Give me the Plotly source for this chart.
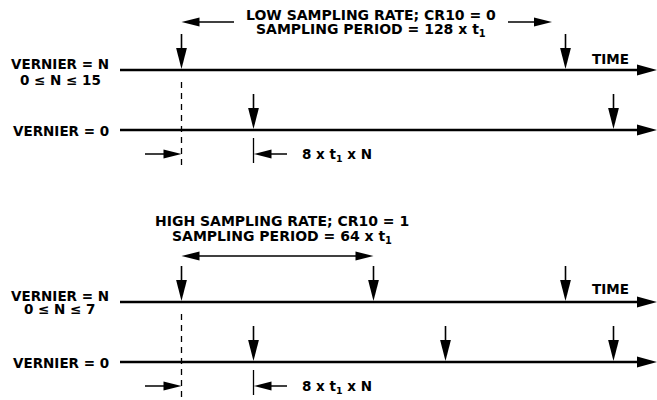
import plotly.graph_objects as go

# ---------------- data (time in units of t1) ----------------
panel_titles_line1 = ["LOW SAMPLING RATE; CR10 = 0", "HIGH SAMPLING RATE; CR10 = 1"]
panel_titles_line2 = ["SAMPLING PERIOD = 128 x t<sub>1</sub>", "SAMPLING PERIOD = 64 x t<sub>1</sub>"]
vernier_n_labels = ["VERNIER = N", "VERNIER = N"]
vernier_n_ranges = ["0 \u2264 N \u2264 15", "0 \u2264 N \u2264 7"]
vernier_0_labels = ["VERNIER = 0", "VERNIER = 0"]
offset_label = "8 x t<sub>1</sub> x N"
time_label = "TIME"

low_vernier_n_events = [0, 128]
low_vernier_0_events = [24, 144]
high_vernier_n_events = [0, 64, 128]
high_vernier_0_events = [24, 88, 144]
sampling_periods = [128, 64]
vernier_offset = 24

# ---------------- layout helpers ----------------
W, H = 657, 400
T0_PX = 181.5      # pixel of t = 0
PX_PER_T = 3.0
X_RANGE = [-T0_PX / PX_PER_T, (W - T0_PX) / PX_PER_T]
U = 1.0 / PX_PER_T  # x-units per pixel

BLACK = "#000000"
FONT = dict(family="DejaVu Sans", size=13.5, color=BLACK, weight="bold")
TITLE_FONT = dict(family="DejaVu Sans", size=14, color=BLACK, weight="bold")

shapes = []
annotations = []


def tpx(px):
    """pixel column -> time units (for layout-only positions)"""
    return (px - T0_PX) / PX_PER_T


def line(x0, y0, x1, y1, width=1.5, dash="solid"):
    shapes.append(dict(type="line", xref="x", yref="y", x0=x0, y0=y0, x1=x1, y1=y1,
                       line=dict(color=BLACK, width=width, dash=dash)))


def head(tx, ty, direction, length, half):
    # length/half in pixels; tip at (tx, ty)
    if direction == "down":
        pts = [(tx, ty), (tx - half * U, ty - length), (tx + half * U, ty - length)]
    elif direction == "right":
        pts = [(tx, ty), (tx - length * U, ty - half), (tx - length * U, ty + half)]
    else:  # left
        pts = [(tx, ty), (tx + length * U, ty - half), (tx + length * U, ty + half)]
    path = "M {},{} L {},{} L {},{} Z".format(*[v for p in pts for v in p])
    shapes.append(dict(type="path", xref="x", yref="y", path=path,
                       fillcolor=BLACK, line=dict(width=0)))


def text(x, y, s, xanchor="center", font=FONT):
    annotations.append(dict(x=x, y=y, xref="x", yref="y", text=s, showarrow=False,
                            xanchor=xanchor, yanchor="middle", font=font))


panels = [
    dict(n_events=low_vernier_n_events, z_events=low_vernier_0_events,
         row_n=70, row_0=130, title_y=(14.5, 30), title_x=tpx(371),
         arrow_y=22, arrow_mode="split", range_y=80, time_y=58.5),
    dict(n_events=high_vernier_n_events, z_events=high_vernier_0_events,
         row_n=302, row_0=362, title_y=(221, 236.5), title_x=tpx(282),
         arrow_y=256, arrow_mode="double", range_y=308.5, time_y=288.5),
]

axis_start = tpx(120)
axis_end = tpx(W)

for i, p in enumerate(panels):
    rn, r0 = p["row_n"], p["row_0"]
    # time axes
    for r in (rn, r0):
        line(axis_start, r, axis_end - 19 * U, r, width=2.6)
        head(axis_end, r, "right", 20, 5.6)
    # sampling events
    for t in p["n_events"]:
        line(t, rn - 36, t, rn - 20, width=1.6)
        head(t, rn - 1, "down", 21, 5.4)
    for t in p["z_events"]:
        line(t, r0 - 36, t, r0 - 20, width=1.6)
        head(t, r0 - 1, "down", 21, 5.4)
    # dashed reference at t = 0
    line(0, rn + 12, 0, min(r0 + 37, H), width=1.3, dash="6px,5px")
    # vernier offset dimension
    dy = r0 + 24
    line(tpx(145), dy, -16 * U, dy, width=1.5)
    head(0, dy, "right", 18, 4.4)
    line(vernier_offset, r0 + 8, vernier_offset, r0 + 33, width=1.3)
    head(vernier_offset, dy, "left", 18, 4.4)
    line(vernier_offset + 16 * U, dy, tpx(287), dy, width=1.5)
    text(tpx(300), dy + 0.5, offset_label, xanchor="left")
    # header
    text(p["title_x"], p["title_y"][0], panel_titles_line1[i], font=TITLE_FONT)
    text(p["title_x"], p["title_y"][1], panel_titles_line2[i], font=TITLE_FONT)
    ay = p["arrow_y"]
    period = sampling_periods[i]
    if p["arrow_mode"] == "split":
        head(0, ay, "left", 18, 4.4)
        line(17 * U, ay, tpx(234), ay, width=1.5)
        right_tip = tpx(552)
        line(tpx(508), ay, right_tip - 17 * U, ay, width=1.5)
        head(right_tip, ay, "right", 18, 4.4)
    else:
        head(0, ay, "left", 18, 4.4)
        line(17 * U, ay, period - 17 * U, ay, width=1.5)
        head(period, ay, "right", 18, 4.4)
    # labels
    text(tpx(111), rn - 6.5, vernier_n_labels[i], xanchor="right")
    text(tpx(60), p["range_y"], vernier_n_ranges[i])
    text(tpx(111), r0 + 0.5, vernier_0_labels[i], xanchor="right")
    text(tpx(631), p["time_y"], time_label, xanchor="right")

fig = go.Figure()
fig.add_trace(go.Scatter(x=[X_RANGE[0]], y=[0], mode="markers",
                         marker=dict(opacity=0), hoverinfo="skip", showlegend=False))
fig.update_layout(
    width=W, height=H,
    margin=dict(l=0, r=0, t=0, b=0),
    paper_bgcolor="white", plot_bgcolor="white",
    xaxis=dict(range=X_RANGE, visible=False, fixedrange=True),
    yaxis=dict(range=[H, 0], visible=False, fixedrange=True),
    shapes=shapes, annotations=annotations, showlegend=False,
)
fig.write_html(
    "out.html",
    config={"displayModeBar": False},
    post_script="document.body.style.margin='0';document.body.style.overflow='hidden';",
)
